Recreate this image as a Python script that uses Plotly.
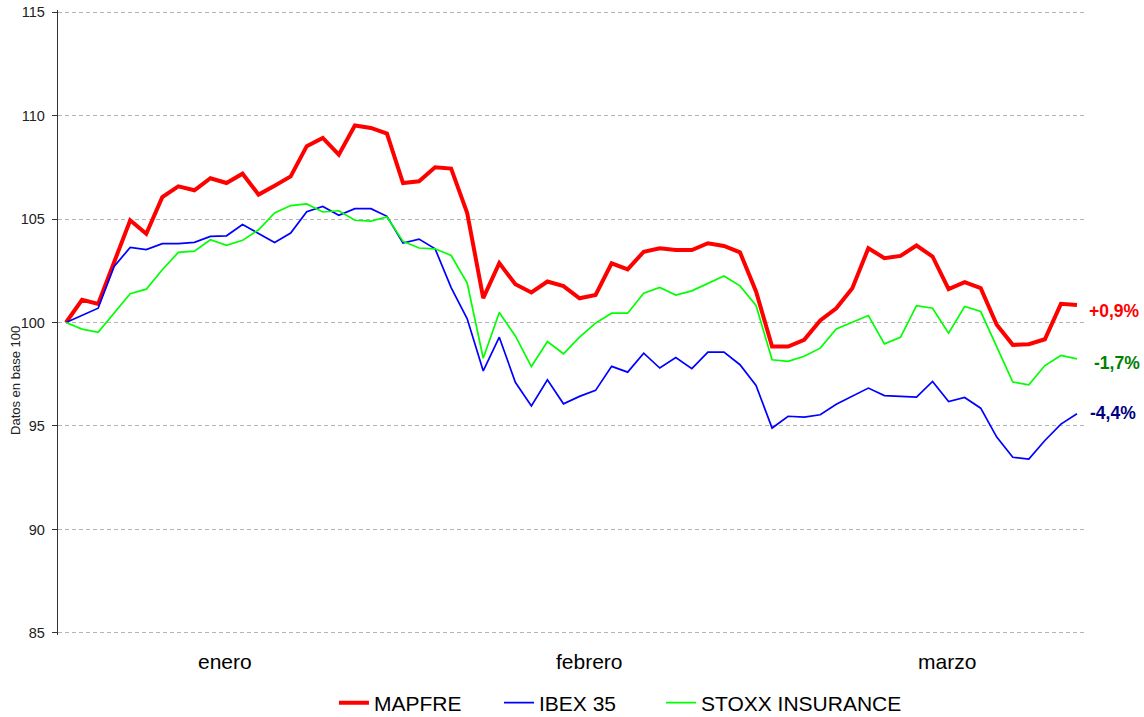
import plotly.graph_objects as go

# ---- data ----
mapfre = [100.0, 101.1, 100.9, 102.9, 104.94, 104.29, 106.06, 106.58, 106.39, 106.97,
          106.74, 107.19, 106.18, 106.61, 107.06, 108.52, 108.92, 108.11, 109.52, 109.40,
          109.13, 106.74, 106.82, 107.5, 107.44, 105.29, 101.18, 102.87, 101.85, 101.45,
          101.98, 101.76, 101.17, 101.33, 102.86, 102.57, 103.42, 103.59, 103.5, 103.5,
          103.83, 103.7, 103.39, 101.5, 98.84, 98.84, 99.16, 100.1, 100.69, 101.66,
          103.59, 103.11, 103.22, 103.72, 103.19, 101.61, 101.95, 101.66, 99.89, 98.92,
          98.95, 99.19, 100.9, 100.85]
ibex = [100.0, 100.35, 100.69, 102.71, 103.63, 103.52, 103.81, 103.81, 103.87, 104.16,
        104.19, 104.73, 104.32, 103.87, 104.32, 105.35, 105.61, 105.18, 105.5, 105.5,
        105.13, 103.84, 104.03, 103.56, 101.69, 100.18, 97.66, 99.29, 97.11, 95.97,
        97.23, 96.07, 96.43, 96.72, 97.88, 97.6, 98.52, 97.8, 98.31, 97.77,
        98.57, 98.57, 97.96, 96.96, 94.9, 95.47, 95.43, 95.54, 96.05, 96.43,
        96.83, 96.47, 96.43, 96.39, 97.15, 96.18, 96.38, 95.86, 94.46, 93.49,
        93.4, 94.3, 95.09, 95.59]
stoxx = [100.0, 99.68, 99.53, 100.45, 101.39, 101.61, 102.55, 103.39, 103.45, 104.0,
         103.73, 103.97, 104.48, 105.29, 105.65, 105.73, 105.34, 105.4, 104.94, 104.9,
         105.1, 103.92, 103.6, 103.56, 103.24, 101.9, 98.27, 100.48, 99.35, 97.87,
         99.08, 98.49, 99.29, 99.97, 100.45, 100.45, 101.41, 101.69, 101.33, 101.53,
         101.9, 102.25, 101.77, 100.82, 98.2, 98.12, 98.37, 98.76, 99.69, 100.02,
         100.34, 98.97, 99.28, 100.81, 100.69, 99.48, 100.77, 100.53, 98.81, 97.12,
         96.99, 97.92, 98.41, 98.24]
days = list(range(len(mapfre)))

month_labels = ["enero", "febrero", "marzo"]
month_pos = [9.9, 32.6, 54.9]
y_ticks = [85, 90, 95, 100, 105, 110, 115]
end_labels = ["+0,9%", "-1,7%", "-4,4%"]

FONT = "Liberation Sans, Arial, sans-serif"

fig = go.Figure()
fig.add_trace(go.Scatter(x=days, y=mapfre, mode="lines", name="MAPFRE",
                         line=dict(color="#ff0000", width=4), legend="legend"))
fig.add_trace(go.Scatter(x=days, y=ibex, mode="lines", name="IBEX 35",
                         line=dict(color="#0000ff", width=1.7), legend="legend2"))
fig.add_trace(go.Scatter(x=days, y=stoxx, mode="lines", name="STOXX INSURANCE",
                         line=dict(color="#00ff00", width=1.7), legend="legend3"))

annotations = []
for lbl, pos in zip(month_labels, month_pos):
    annotations.append(dict(x=pos, xref="x", y=-0.0432, yref="paper", text=lbl,
                            showarrow=False, xanchor="center", yanchor="middle",
                            font=dict(size=21, color="#000000", family=FONT)))

end_cols = ["#ff0000", "#008000", "#000080"]
end_x = [1.0019, 1.0068, 1.0029]
end_y = [100.55, 98.05, 95.65]
for lbl, col, xx, yy in zip(end_labels, end_cols, end_x, end_y):
    annotations.append(dict(x=xx, xref="paper", y=yy, yref="y", text="<b>%s</b>" % lbl,
                            showarrow=False, xanchor="left", yanchor="middle",
                            font=dict(size=17.5, color=col, family=FONT)))

annotations.append(dict(x=-0.0419, xref="paper", y=0.408, yref="paper",
                        text="Datos en base 100", textangle=-90, showarrow=False,
                        xanchor="center", yanchor="middle",
                        font=dict(size=13, color="#222222", family=FONT)))

leg_common = dict(orientation="h", xanchor="left", y=-0.1088, yanchor="middle",
                  font=dict(size=21, color="#000000", family=FONT),
                  bgcolor="rgba(0,0,0,0)")

fig.update_layout(
    width=1144, height=717,
    margin=dict(l=58, r=59, t=10, b=82, autoexpand=False),
    paper_bgcolor="#ffffff", plot_bgcolor="#ffffff",
    font=dict(family=FONT, color="#222222"),
    showlegend=True,
    hovermode=False,
    legend=dict(x=0.2687, **leg_common),
    legend2=dict(x=0.4294, **leg_common),
    legend3=dict(x=0.5871, **leg_common),
    annotations=annotations,
    xaxis=dict(range=[-0.5, 63.5], showgrid=False, zeroline=False, showline=False,
               showticklabels=False, ticks=""),
    yaxis=dict(range=[84.9, 115.1], tickvals=y_ticks, ticktext=[str(v) for v in y_ticks],
               showgrid=True, gridcolor="#b4b4b4", griddash="4px,3px", gridwidth=1,
               zeroline=False, showline=True, linecolor="#333333", linewidth=1.3,
               ticks="outside", ticklen=5, tickcolor="#333333", tickwidth=1.3,
               ticklabelstandoff=4, automargin=False,
               tickfont=dict(size=14.5, color="#222222", family=FONT)),
)

fig.write_html("out.html", config={"displayModeBar": False},
               post_script="document.body.style.margin='0';document.body.style.overflow='hidden';")
